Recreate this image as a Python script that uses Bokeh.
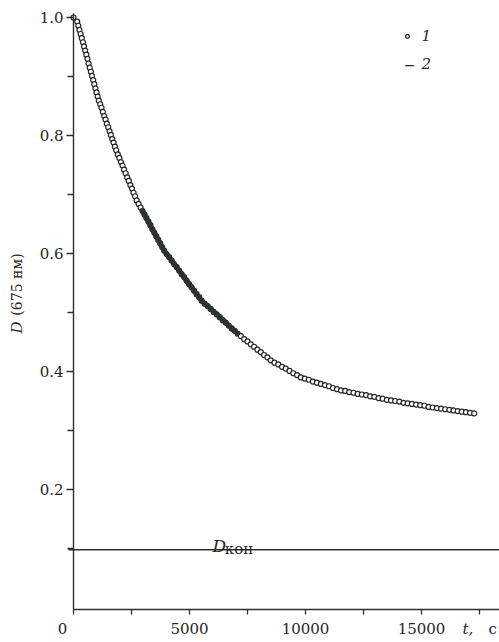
from bokeh.plotting import figure
from bokeh.models import Range1d, FixedTicker, Label
from bokeh.embed import file_html
from bokeh.resources import INLINE

# ---- data ----
# series 1: measured points (open circles)
t1 = [0, 160, 208, 258, 306, 356, 405, 454, 503, 552, 601, 651, 699, 749, 797, 847, 896, 945, 994, 1043, 1092,
      1150, 1207, 1265, 1323, 1380, 1438, 1496, 1554, 1611, 1669, 1727, 1784, 1842,
      1910, 1977, 2045, 2113, 2180, 2248, 2316, 2384, 2451, 2519, 2587, 2654, 2722,
      2807, 2891, 2976, 3061, 3145, 3230, 3315, 3399, 3484, 3569, 3653, 3738, 3822, 3907,
      4014, 4123, 4230, 4337, 4446, 4553, 4660, 4769, 4876, 4983, 5092, 5199, 5306, 5415, 5522,
      5652, 5782, 5911, 6041, 6171, 6301, 6431, 6561, 6690, 6820, 6950, 7080,
      7213, 7356, 7499, 7642, 7785, 7928, 8071, 8214, 8357, 8500,
      8662, 8825, 8987, 9149, 9311, 9474, 9636, 9798,
      9971, 10145, 10318, 10491, 10665, 10838, 11011, 11185, 11358, 11531,
      11711, 11890, 12070, 12249, 12429, 12609, 12788, 12968, 13147, 13327, 13507, 13686,
      13866, 14046, 14226, 14406, 14586, 14766, 14946, 15126, 15306, 15486, 15666, 15846,
      16024, 16203, 16381, 16559, 16737, 16916, 17094, 17272]
D1 = [1.000, 0.993, 0.986, 0.979, 0.972, 0.965, 0.958, 0.951, 0.944, 0.937, 0.930, 0.922, 0.915, 0.908, 0.901,
      0.894, 0.887, 0.880, 0.873, 0.866, 0.859,
      0.853, 0.847, 0.840, 0.833, 0.827, 0.820, 0.814, 0.807, 0.801, 0.794, 0.788, 0.781, 0.775,
      0.768, 0.762, 0.755, 0.749, 0.742, 0.736, 0.729, 0.723, 0.716, 0.710, 0.703, 0.697, 0.690,
      0.684, 0.678, 0.672, 0.666, 0.660, 0.654, 0.648, 0.641, 0.635, 0.629, 0.623, 0.617, 0.611, 0.605,
      0.599, 0.594, 0.588, 0.582, 0.577, 0.571, 0.565, 0.560, 0.554, 0.548, 0.543, 0.537, 0.531, 0.526, 0.520,
      0.515, 0.511, 0.506, 0.501, 0.497, 0.492, 0.487, 0.483, 0.478, 0.473, 0.469, 0.464,
      0.460, 0.455, 0.451, 0.446, 0.442, 0.437, 0.433, 0.428, 0.424, 0.419,
      0.415, 0.412, 0.408, 0.405, 0.401, 0.397, 0.394, 0.390,
      0.388, 0.386, 0.383, 0.381, 0.379, 0.377, 0.375, 0.372, 0.370, 0.368,
      0.367, 0.365, 0.364, 0.362, 0.361, 0.360, 0.358, 0.357, 0.355, 0.354, 0.352, 0.351,
      0.350, 0.349, 0.347, 0.346, 0.345, 0.344, 0.343, 0.342, 0.340, 0.339, 0.338, 0.337,
      0.336, 0.335, 0.334, 0.333, 0.332, 0.331, 0.330, 0.329]

# series 2: calculated curve (solid line)
t2 = [2976, 3230, 3569, 3907, 4446, 4983, 5522, 6171, 6690, 7080]
D2 = [0.672, 0.654, 0.629, 0.605, 0.577, 0.548, 0.520, 0.497, 0.478, 0.464]

# final optical density level
D_kon = 0.098

x_major = [0, 5000, 10000, 15000]
x_minor = [2500, 7500, 12500, 17500]
x_labels = ["", "5000", "10000", "15000"]
y_major = [0.2, 0.4, 0.6, 0.8, 1.0]
y_minor = [0.1, 0.3, 0.5, 0.7, 0.9]
y_labels = ["0.2", "0.4", "0.6", "0.8", "1.0"]

# ---- layout ----
T_MIN, T_MAX = -3146.6, 18362      # whole canvas width in data units
D_MIN, D_MAX = -0.0593, 1.0288     # whole canvas height in data units
X_AXIS_AT = -0.0034                # where the t axis is drawn
Y_TOP = 1.0068                     # top end of the D axis
KON_FROM = -220                    # left end of the D_kon line

INK = "#2e2e2e"
TXT = "#262626"
SERIF = "DejaVu Serif"

p = figure(width=499, height=642, output_backend="svg", toolbar_location=None,
           x_range=Range1d(T_MIN, T_MAX), y_range=Range1d(D_MIN, D_MAX),
           min_border=0)
p.xgrid.visible = False
p.ygrid.visible = False
p.outline_line_color = None
p.background_fill_color = "white"
p.border_fill_color = "white"

p.xaxis.fixed_location = X_AXIS_AT
p.yaxis.fixed_location = 0
p.xaxis.bounds = (0, T_MAX)
p.yaxis.bounds = (X_AXIS_AT, Y_TOP)

for ax in (p.xaxis[0], p.yaxis[0]):
    ax.axis_line_color = INK
    ax.axis_line_width = 1.4
    ax.major_tick_line_color = INK
    ax.minor_tick_line_color = INK
    ax.major_tick_line_width = 1.3
    ax.minor_tick_line_width = 1.3
    ax.major_tick_in = 0
    ax.minor_tick_in = 0
    ax.major_label_text_font = SERIF
    ax.major_label_text_font_size = "15px"
    ax.major_label_text_color = TXT

p.xaxis.ticker = FixedTicker(ticks=x_major, minor_ticks=x_minor)
p.yaxis.ticker = FixedTicker(ticks=y_major, minor_ticks=y_minor)
p.xaxis.major_label_overrides = {v: s for v, s in zip(x_major, x_labels)}
p.yaxis.major_label_overrides = {v: s for v, s in zip(y_major, y_labels)}
p.xaxis.major_tick_out = 5
p.xaxis.minor_tick_out = 5
p.yaxis.major_tick_out = 7
p.yaxis.minor_tick_out = 6
p.yaxis.major_label_standoff = 3
p.xaxis.major_label_standoff = 8

# final level line
p.line([KON_FROM, T_MAX], [D_kon, D_kon], line_color=INK, line_width=1.4)

# series 1 (circles)
p.scatter(t1, D1, marker="circle", size=5, fill_color="white", line_color="#262626", line_width=1.2)
# series 2 (line)
p.line(t2, D2, line_color="#2b3330", line_width=4.8, line_cap="round")

def lab(x, y, text, size, italic=False, angle=0.0, align="center", baseline="middle"):
    p.add_layout(Label(x=x, y=y, text=text, angle=angle, text_font=SERIF,
                       text_font_style="italic" if italic else "normal", text_font_size=size,
                       text_align=align, text_baseline=baseline, text_color=TXT))

# origin label and axis titles
lab(-474, -0.036, "0", "15px")
lab(-2414, 0.4746, "D", "15px", italic=True, angle=1.5708)
lab(-2414, 0.5475, "(675 нм)", "14px", angle=1.5708)
lab(16767, -0.036, "t,", "15px", italic=True, align="left")
lab(17888, -0.036, "с", "15px", align="left")

# D_kon label
lab(5991, 0.104, "D", "17px", italic=True, align="left", baseline="alphabetic")
lab(6520, 0.099, "кон", "15px", align="left", baseline="alphabetic")

# legend
lab(14396, 0.969, "∘", "18px")
lab(15000, 0.969, "1", "15px", italic=True, align="left")
lab(14480, 0.922, "–", "21px")
lab(15000, 0.922, "2", "15px", italic=True, align="left")

open("out.html", "w").write(file_html(p, INLINE))
